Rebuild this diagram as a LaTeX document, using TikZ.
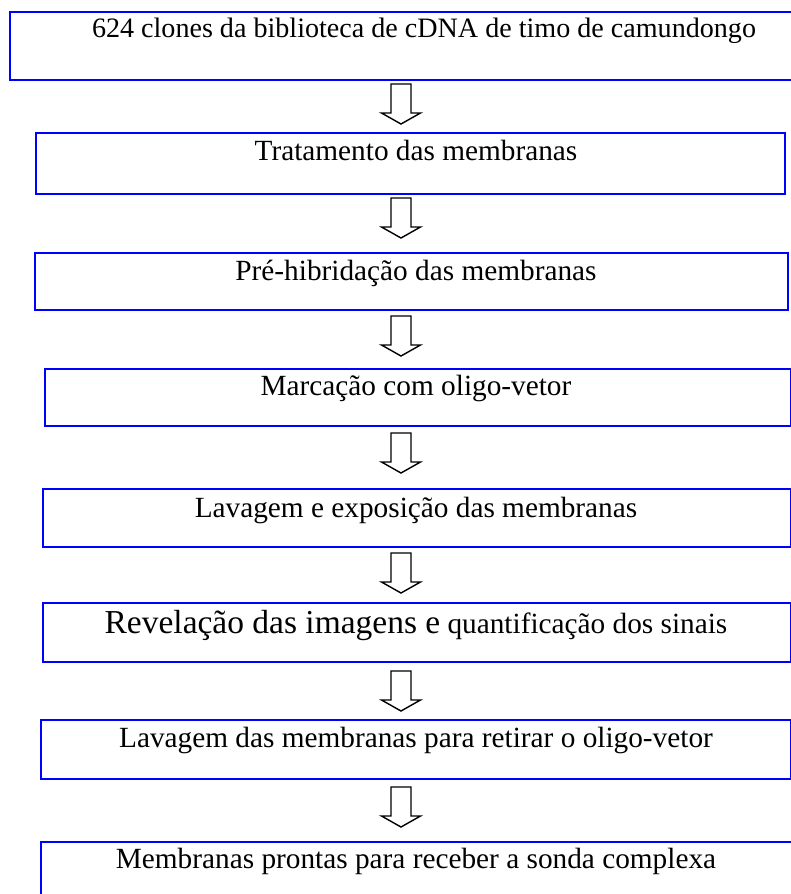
\documentclass[tikz,border=0pt]{standalone}
\usepackage{fontspec}
\setmainfont{Liberation Serif}
\definecolor{boxblue}{RGB}{0,0,255}
\tikzset{
  flowbox/.style={draw=boxblue, line width=2.2bp, rectangle, inner sep=0pt, anchor=north west},
  lbl/.style={anchor=base, inner sep=0pt, font=\fontsize{29.4}{34}\selectfont},
  downarrow/.pic={\draw[line width=1.4bp, line join=miter, fill=white]
     (-10,0) -- (-10,29) -- (-19.5,29) -- (0,40) -- (19.5,29) -- (10,29) -- (10,0) -- cycle;}
}
\begin{document}
\begin{tikzpicture}[x=1bp,y=-1bp]
\path[use as bounding box] (0,0) rectangle (791,894);
\clip (0,0) rectangle (791,894);
% boxes
\node[flowbox, minimum width=830bp, minimum height=68bp] (b1) at (9,11) {};
\node[flowbox, minimum width=749bp, minimum height=61bp] (b2) at (35,132) {};
\node[flowbox, minimum width=753bp, minimum height=57bp] (b3) at (34,252) {};
\node[flowbox, minimum width=746bp, minimum height=57bp] (b4) at (44,368) {};
\node[flowbox, minimum width=748bp, minimum height=58bp] (b5) at (42,488) {};
\node[flowbox, minimum width=748bp, minimum height=59bp] (b6) at (42,602) {};
\node[flowbox, minimum width=750bp, minimum height=59bp] (b7) at (40,719) {};
\node[flowbox, minimum width=800bp, minimum height=80bp] (b8) at (40,841) {};
% texts
\node[lbl, font=\fontsize{28.2}{34}\selectfont] (t1) at (424,37) {624 clones da biblioteca de cDNA de timo de camundongo};
\node[lbl] (t2) at (416,160) {Tratamento das membranas};
\node[lbl] (t3) at (416,280) {Pré-hibridação das membranas};
\node[lbl] (t4) at (416,395) {Marcação com oligo-vetor};
\node[lbl] (t5) at (416,517) {Lavagem e exposição das membranas};
\node[lbl] (t6) at (416,633) {{\fontsize{33.6}{38}\selectfont Revelação das imagens e} quantificação dos sinais};
\node[lbl] (t7) at (416,747) {Lavagem das membranas para retirar o oligo-vetor};
\node[lbl] (t8) at (416,868) {Membranas prontas para receber a sonda complexa};
% block arrows
\coordinate (a1) at (401,84);
\coordinate (a2) at (401,198);
\coordinate (a3) at (401,316);
\coordinate (a4) at (401,433);
\coordinate (a5) at (401,553);
\coordinate (a6) at (401,671);
\coordinate (a7) at (401,787);
\foreach \a in {a1,a2,a3,a4,a5,a6,a7} {\pic at (\a) {downarrow};}
\end{tikzpicture}
\end{document}
